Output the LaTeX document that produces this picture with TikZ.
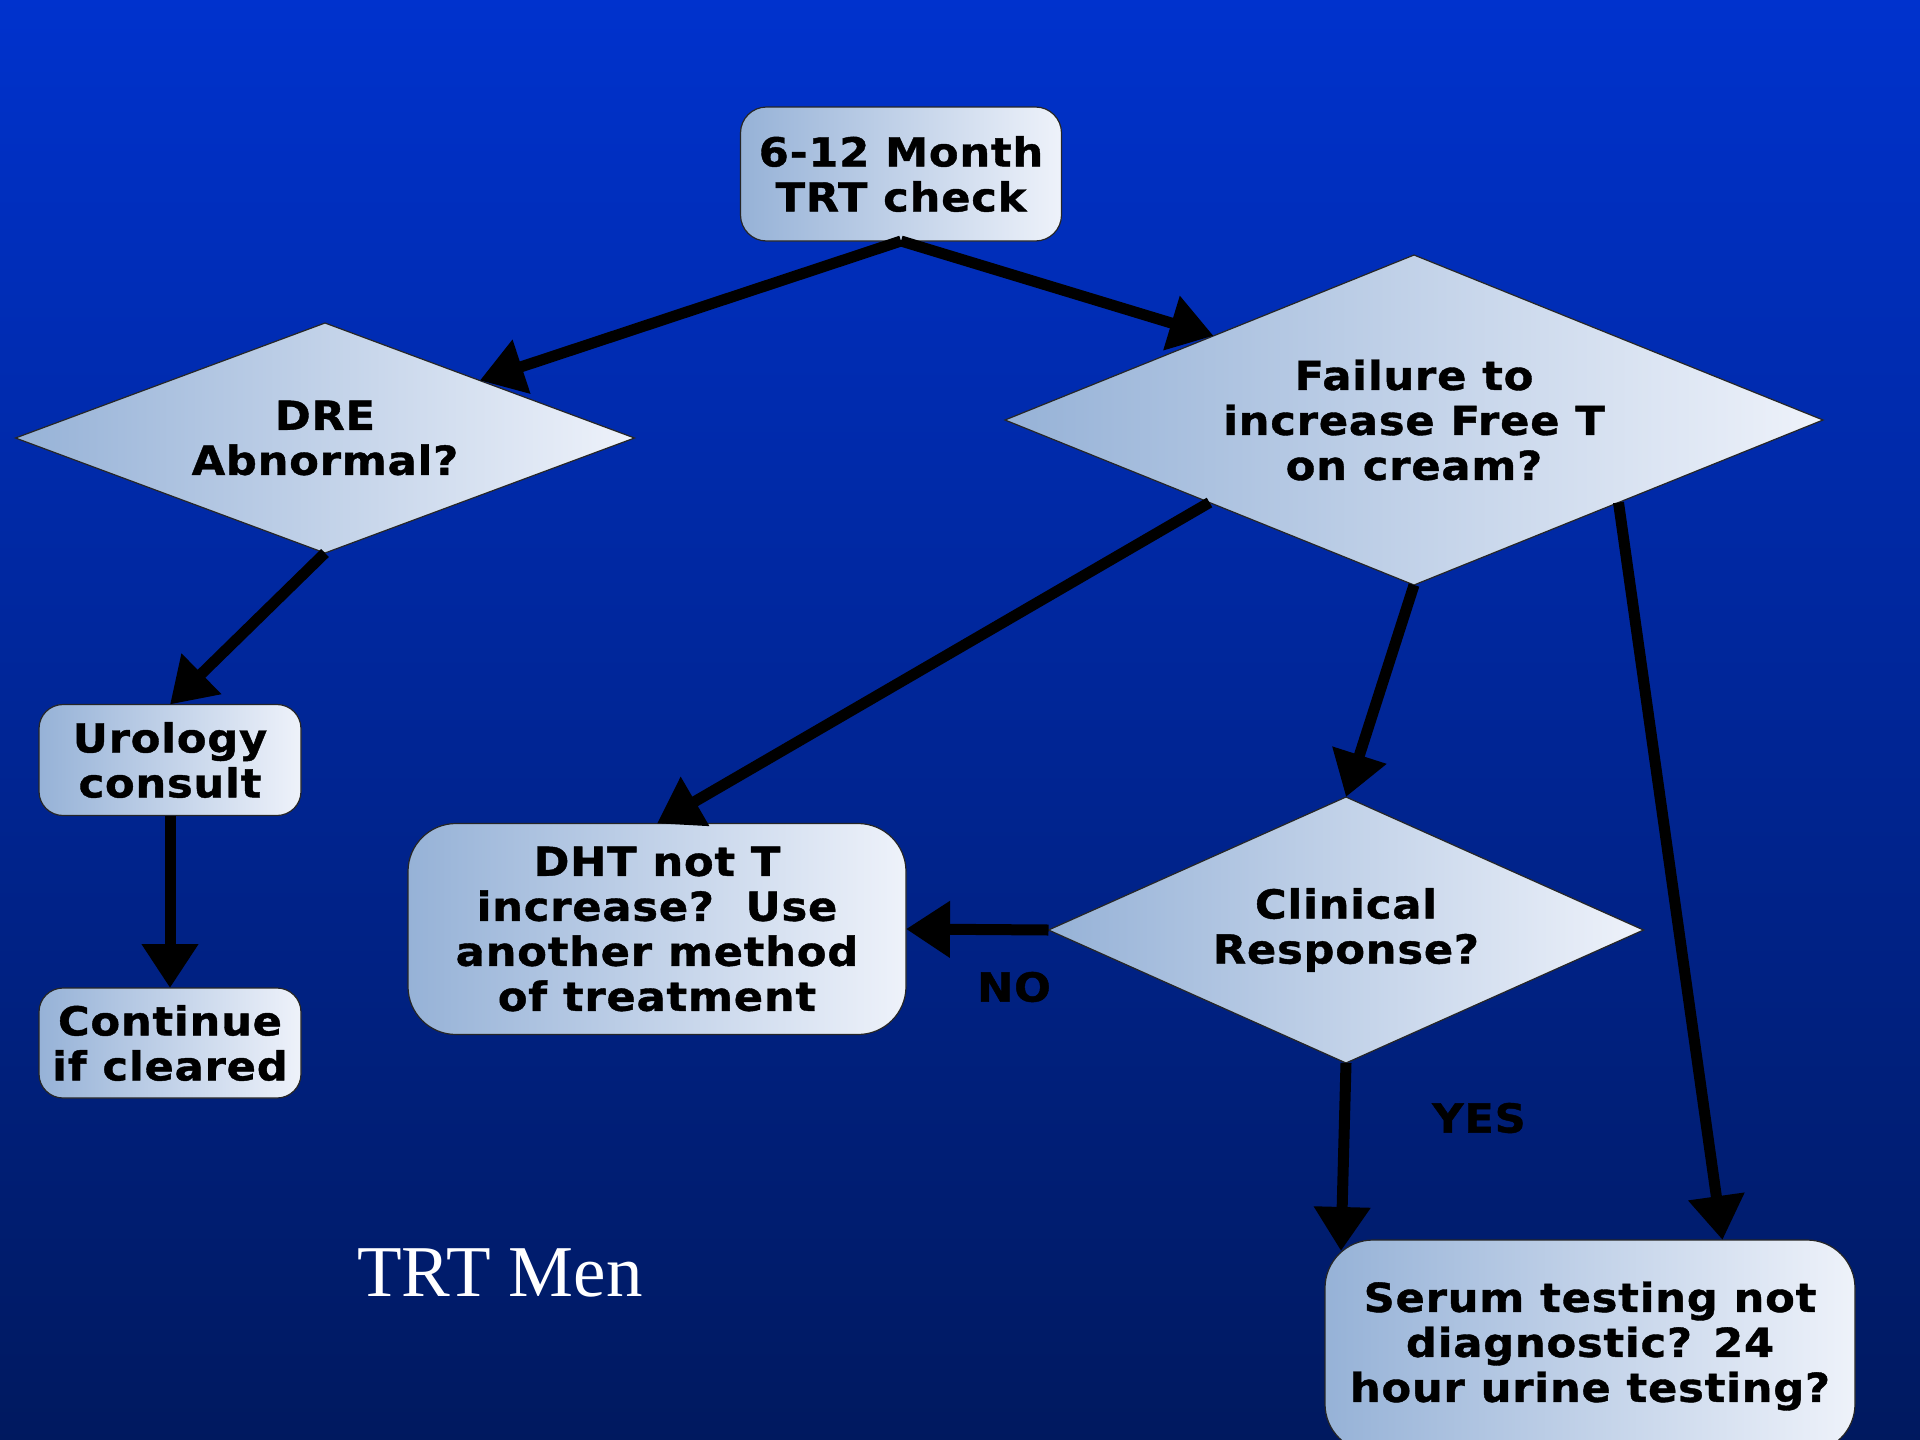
\documentclass[tikz,border=0pt]{standalone}
\usepackage{fontspec}
\usetikzlibrary{shapes.geometric,arrows.meta,calc}
\newfontfamily\flowfont{DejaVu Sans}[FakeStretch=1.08,LetterSpace=2,FakeBold=1]
\newfontfamily\titlefont{Liberation Serif}

\definecolor{bgtop}{RGB}{0,50,205}
\definecolor{bgbottom}{RGB}{0,25,95}
\definecolor{fillleft}{RGB}{150,178,215}
\definecolor{fillright}{RGB}{238,242,250}

\tikzset{
  flowtext/.style={font=\flowfont\bfseries\fontsize{40pt}{45pt}\selectfont, text=black, align=center},
  shaded/.style={left color=fillleft, right color=fillright, draw=black!85, line width=1.2pt},
  roundbox/.style={shaded, flowtext, rectangle, rounded corners=#1, inner sep=0pt, outer sep=0pt},
  decision/.style={shaded, flowtext, diamond, inner sep=0pt, outer sep=0pt},
  flowarrow/.style={line width=11pt, -{Triangle[length=44pt,width=54pt]}},
  branchlabel/.style={font=\flowfont\bfseries\fontsize{40pt}{45pt}\selectfont, text=black}
}

\begin{document}
\begin{tikzpicture}[x=1pt,y=-1pt]
  \useasboundingbox (0,0) rectangle (1920,1440);
  \clip (0,0) rectangle (1920,1440);
  \fill[top color=bgtop, bottom color=bgbottom] (0,0) rectangle (1920,1440);

  % boxes and decisions
  \node[roundbox=26pt, minimum width=321pt, minimum height=134pt] (check) at (901,174) {6-12 Month\\TRT check};
  \node[decision, shape aspect=2.7, minimum width=619pt, minimum height=230pt] (dre) at (325,438) {DRE\\Abnormal?};
  \node[decision, shape aspect=2.48, minimum width=818pt, minimum height=330pt] (fail) at (1414,420) {Failure to\\increase Free T\\on cream?};
  \node[roundbox=24pt, minimum width=262pt, minimum height=111pt] (uro) at (170,760) {Urology\\consult};
  \node[roundbox=24pt, minimum width=262pt, minimum height=110pt] (cont) at (170,1043) {Continue\\if cleared};
  \node[roundbox=48pt, minimum width=498pt, minimum height=211pt] (dht) at (657,929) {DHT not T\\increase?~~Use\\another method\\of treatment};
  \node[decision, shape aspect=2.24, minimum width=595pt, minimum height=266pt] (clin) at (1346,930) {Clinical\\Response?};
  \node[roundbox=48pt, minimum width=530pt, minimum height=212pt] (serum) at (1590,1346) {Serum testing not\\diagnostic? 24\\hour urine testing?};

  % branch labels and title
  \node[branchlabel] (no) at (1014,987) {NO};
  \node[branchlabel] (yes) at (1479,1118) {YES};
  \node[font=\titlefont\fontsize{73pt}{80pt}\selectfont, text=white] (title) at (500,1273) {TRT Men};

  % connectors
  \draw[flowarrow] (check.south) -- ($(dre.north)!0.5!(dre.east)$);
  \draw[flowarrow] (check.south) -- ($(fail.west)!0.51!(fail.north)$);
  \draw[flowarrow] (dre.south) -- (uro.north);
  \draw[flowarrow] (uro.south) -- (cont.north);
  \draw[flowarrow] ($(fail.west)!0.5!(fail.south)$) -- (dht.north);
  \draw[flowarrow] (fail.south) -- (clin.north);
  \draw[flowarrow] ($(fail.east)!0.5!(fail.south)$) -- ($(serum.north west)!0.75!(serum.north east)$);
  \draw[flowarrow] (clin.west) -- (dht.east);
  \draw[flowarrow] (clin.south) -- ($(serum.north west)+(16,11)$);
\end{tikzpicture}
\end{document}
